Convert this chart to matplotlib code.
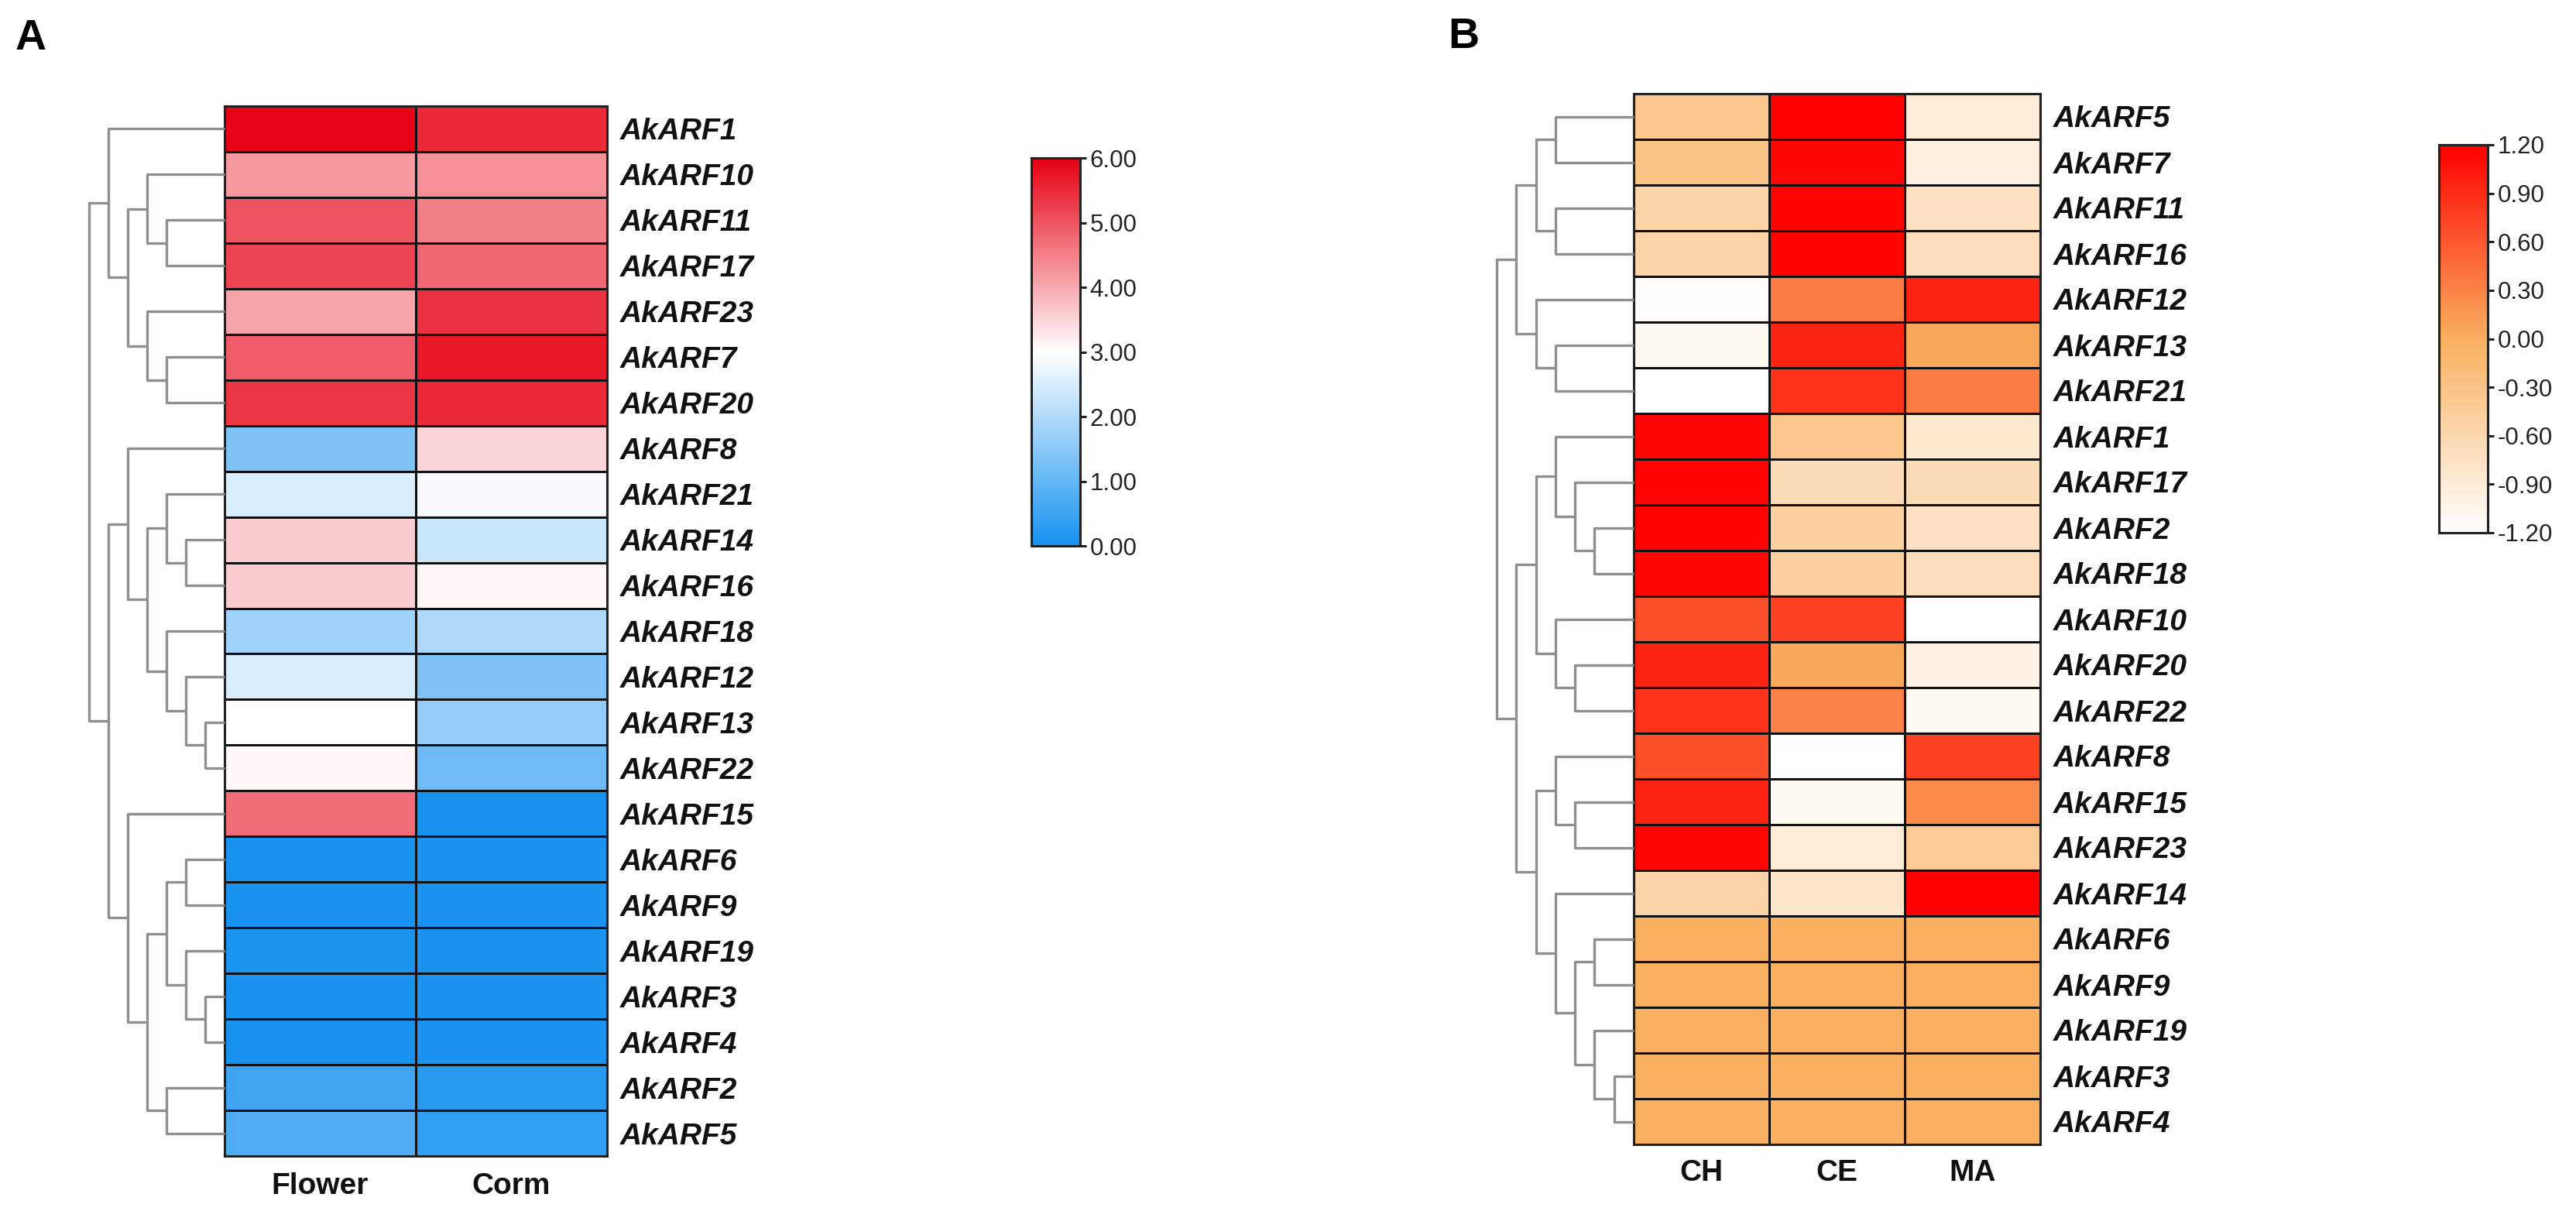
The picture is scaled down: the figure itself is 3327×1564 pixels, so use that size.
import numpy as np
import matplotlib
matplotlib.use("Agg")
import matplotlib.pyplot as plt
from matplotlib.colors import LinearSegmentedColormap, Normalize
from matplotlib.cm import ScalarMappable
from matplotlib.transforms import offset_copy

plt.rcParams['font.family'] = ['Liberation Sans', 'DejaVu Sans']
plt.rcParams['axes.unicode_minus'] = False

# ---- panel A: expression in flower / corm ----
genes_a = ["AkARF1", "AkARF10", "AkARF11", "AkARF17", "AkARF23", "AkARF7", "AkARF20",
           "AkARF8", "AkARF21", "AkARF14", "AkARF16", "AkARF18", "AkARF12", "AkARF13",
           "AkARF22", "AkARF15", "AkARF6", "AkARF9", "AkARF19", "AkARF3", "AkARF4",
           "AkARF2", "AkARF5"]
tissues_a = ["Flower", "Corm"]
flower = [5.95, 4.2, 5.0, 5.2, 4.1, 4.9, 5.35, 1.37, 2.55, 3.6, 3.6, 1.78, 2.5, 3.0,
          3.1, 4.7, 0.05, 0.05, 0.08, 0.05, 0.03, 0.56, 0.76]
corm = [5.5, 4.3, 4.5, 4.8, 5.4, 5.7, 5.5, 3.5, 2.9, 2.3, 3.1, 1.99, 1.37, 1.65,
        1.14, 0.03, 0.05, 0.05, 0.05, 0.05, 0.05, 0.25, 0.37]
# (merge level, left, right)
tree_a = (7,
          (6, "AkARF1",
           (5, (4, "AkARF10", (3, "AkARF11", "AkARF17")),
               (4, "AkARF23", (3, "AkARF7", "AkARF20")))),
          (6,
           (5, "AkARF8",
            (4, (3, "AkARF21", (2, "AkARF14", "AkARF16")),
                (3, "AkARF18", (2, "AkARF12", (1, "AkARF13", "AkARF22"))))),
           (5, "AkARF15",
            (4, (3, (2, "AkARF6", "AkARF9"), (2, "AkARF19", (1, "AkARF3", "AkARF4"))),
                (3, "AkARF2", "AkARF5")))))
ticks_a = [0.0, 1.0, 2.0, 3.0, 4.0, 5.0, 6.0]

# ---- panel B: z-scores in CH / CE / MA ----
genes_b = ["AkARF5", "AkARF7", "AkARF11", "AkARF16", "AkARF12", "AkARF13", "AkARF21",
           "AkARF1", "AkARF17", "AkARF2", "AkARF18", "AkARF10", "AkARF20", "AkARF22",
           "AkARF8", "AkARF15", "AkARF23", "AkARF14", "AkARF6", "AkARF9", "AkARF19",
           "AkARF3", "AkARF4"]
tissues_b = ["CH", "CE", "MA"]
ch = [-0.35, -0.3, -0.55, -0.55, -1.15, -1.1, -1.2, 1.15, 1.17, 1.17, 1.15, 0.65, 0.95,
      0.85, 0.65, 0.95, 1.15, -0.55, -0.02, -0.02, -0.02, -0.02, -0.02]
ce = [1.2, 1.15, 1.18, 1.18, 0.35, 0.95, 0.85, -0.35, -0.65, -0.5, -0.5, 0.75, 0.05,
      0.3, -1.2, -1.1, -0.9, -0.8, -0.02, -0.02, -0.02, -0.02, -0.02]
ma = [-0.9, -0.95, -0.75, -0.7, 0.95, 0.05, 0.35, -0.85, -0.65, -0.75, -0.7, -1.2, -1.0,
      -1.1, 0.75, 0.25, -0.4, 1.2, -0.02, -0.02, -0.02, -0.02, -0.02]
tree_b = (7,
          (6, (5, (4, "AkARF5", "AkARF7"), (4, "AkARF11", "AkARF16")),
              (5, "AkARF12", (4, "AkARF13", "AkARF21"))),
          (6,
           (5, (4, "AkARF1", (3, "AkARF17", (2, "AkARF2", "AkARF18"))),
               (4, "AkARF10", (3, "AkARF20", "AkARF22"))),
           (5, (4, "AkARF8", (3, "AkARF15", "AkARF23")),
               (4, "AkARF14",
                (3, (2, "AkARF6", "AkARF9"), (2, "AkARF19", (1, "AkARF3", "AkARF4")))))))
ticks_b = [-1.2, -0.9, -0.6, -0.3, 0.0, 0.3, 0.6, 0.9, 1.2]

cmap_a = LinearSegmentedColormap.from_list("bwr_a", ["#1591EF", "#FFFFFF", "#E60012"])
cmap_b = LinearSegmentedColormap.from_list("wor_b", ["#FFFFFF", "#F9AF5E", "#FF0000"])

W, H = 3327, 1564
fig = plt.figure(figsize=(W / 100, H / 100), dpi=100)


def px(x0, y0, x1, y1):
    return [x0 / W, 1 - y1 / H, (x1 - x0) / W, (y1 - y0) / H]


def draw_tree(ax, node, order):
    if isinstance(node, str):
        return order.index(node) + 0.5, 0
    h, left, right = node
    y1, h1 = draw_tree(ax, left, order)
    y2, h2 = draw_tree(ax, right, order)
    ax.plot([h1, h, h, h2], [y1, y1, y2, y2], color="#8f8f8f", lw=2.4,
            solid_capstyle="butt", clip_on=False)
    return (y1 + y2) / 2, h


def panel(hm_box, den_box, cb_box, genes, cols, data, tree, cmap, vmin, vmax, ticks,
          col_off):
    n = len(genes)
    ax = fig.add_axes(px(*hm_box))
    norm = Normalize(vmin, vmax)
    ax.pcolormesh(np.arange(len(cols) + 1), np.arange(n + 1), data, cmap=cmap, norm=norm,
                  edgecolors="#111111", linewidth=2.0)
    ax.set_xlim(0, len(cols))
    ax.set_ylim(n, 0)
    ax.set_xticks([])
    ax.set_yticks([])
    for s in ax.spines.values():
        s.set_linewidth(2.2)
        s.set_color("#222222")
    lab_tr = offset_copy(ax.transData, fig=fig, x=17, y=-14, units="dots")
    for i, g in enumerate(genes):
        ax.text(len(cols), i + 0.5, g, transform=lab_tr, ha="left", va="baseline",
                fontsize=28, fontweight="bold", fontstyle="italic", color="#111111")
    col_tr = offset_copy(ax.transData, fig=fig, x=0, y=-col_off, units="dots")
    for j, c in enumerate(cols):
        ax.text(j + 0.5, n, c, transform=col_tr, ha="center", va="baseline",
                fontsize=28, fontweight="bold", color="#111111")

    dax = fig.add_axes(px(*den_box))
    draw_tree(dax, tree, genes)
    dax.set_xlim(7, 0)
    dax.set_ylim(n, 0)
    dax.axis("off")

    cax = fig.add_axes(px(*cb_box))
    cb = fig.colorbar(ScalarMappable(norm=norm, cmap=cmap), cax=cax, ticks=ticks)
    cb.ax.set_yticklabels(["%.2f" % t for t in ticks])
    cb.outline.set_linewidth(2.2)
    cb.outline.set_edgecolor("#222222")
    cax.tick_params(direction="out", length=6, width=2.2, labelsize=22.5,
                    colors="#222222", pad=3)
    return ax


data_a = np.column_stack([flower, corm])
data_b = np.column_stack([ch, ce, ma])

panel((290, 137, 784, 1493), (115, 137, 290, 1493), (1332, 204, 1395, 705),
      genes_a, tissues_a, data_a, tree_a, cmap_a, 0.0, 6.0, ticks_a, 49)
panel((2110, 121, 2635, 1478), (1933, 121, 2110, 1478), (3150, 187, 3213, 688),
      genes_b, tissues_b, data_b, tree_b, cmap_b, -1.2, 1.2, ticks_b, 47)

fig.text(20 / W, 1 - 64 / H, "A", fontsize=40, fontweight="bold", ha="left", va="baseline")
fig.text(1870 / W, 1 - 62 / H, "B", fontsize=40, fontweight="bold", ha="left", va="baseline")

fig.savefig("out.png", dpi=100, facecolor="white")
